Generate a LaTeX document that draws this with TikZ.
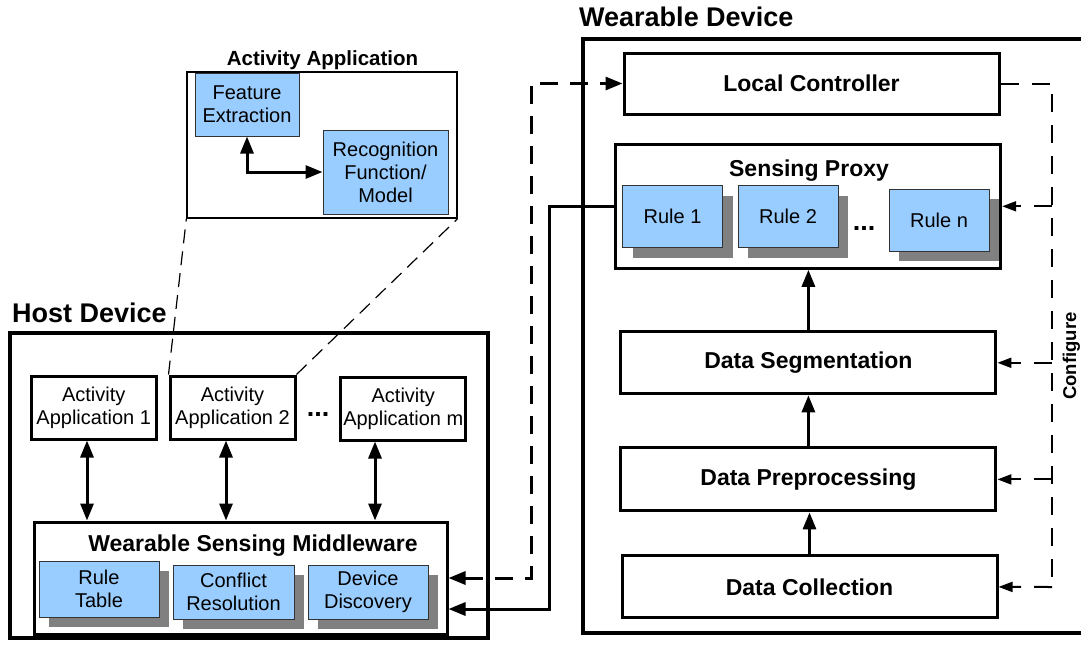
\documentclass[tikz,border=0pt]{standalone}
\usepackage{fontspec}
\setmainfont{Liberation Sans}
\usetikzlibrary{arrows.meta,shadows}
\definecolor{bluefill}{HTML}{99CCFF}
\definecolor{shadowgray}{HTML}{808080}
\tikzset{
  bigtip/.tip={Triangle[length=17pt, width=13pt]},
  cfgtip/.tip={Triangle[length=14pt, width=10pt]}
}
\begin{document}
\begin{tikzpicture}[x=1pt,y=-1pt,
  outerbox/.style={draw, line width=4pt, inner sep=0pt},
  heavybox/.style={draw, line width=3pt, fill=white, inner sep=0pt, align=center, font=\fontsize{23}{26}\selectfont\bfseries},
  appbox/.style={draw, line width=3pt, fill=white, inner sep=0pt, align=center, font=\fontsize{20}{23}\selectfont, minimum width=125, minimum height=63},
  bluebox/.style={draw=black!80, line width=1pt, fill=bluefill, inner sep=0pt, align=center, font=\fontsize{20}{23}\selectfont},
  shadowed/.style={drop shadow={shadow xshift=10pt, shadow yshift=-10pt, opacity=1, fill=shadowgray}},
  heading/.style={font=\fontsize{27}{30}\selectfont\bfseries, inner sep=0pt},
  title/.style={font=\fontsize{23}{26}\selectfont\bfseries, inner sep=0pt},
  dotsfont/.style={font=\fontsize{27}{30}\selectfont\bfseries, inner sep=0pt},
  fat/.style={line width=3pt},
  bigdash/.style={line width=3pt, dash pattern=on 18pt off 12pt},
  cfgdash/.style={line width=2pt, dash pattern=on 18pt off 13pt},
  zoomdash/.style={line width=1.2pt, dash pattern=on 14pt off 8pt},
  cfgarrow/.style={line width=2pt, -{cfgtip}}
]
\useasboundingbox (0,0) rectangle (1081,645);

% ---------------- Activity application detail ----------------
\node[font=\fontsize{20.5}{24}\selectfont\bfseries, inner sep=0pt, anchor=base] (aatitle) at (322.5,65) {Activity Application};
\node[draw, line width=1.3pt, inner sep=0pt, minimum width=270, minimum height=146] (aa) at (322,145) {};
\node[bluebox, minimum width=104, minimum height=63] (fe) at (247,104.5) {Feature\\Extraction};
\node[bluebox, minimum width=125, minimum height=84] (rf) at (385.5,172) {Recognition\\Function/\\Model};
\draw[fat, {bigtip}-{bigtip}] (fe.south) |- (rf.west);

% ---------------- Host device ----------------
\node[heading, anchor=base west] (hosttitle) at (12,322) {Host Device};
\node[outerbox, minimum width=478, minimum height=305] (host) at (249,485.5) {};
\node[appbox] (app1) at (93.7,407.5) {Activity\\Application 1};
\node[appbox] (app2) at (232.5,407.5) {Activity\\Application 2};
\node[appbox] (appm) at (403.3,408.5) {Activity\\Application m};
\node[dotsfont, anchor=base] (hdots) at (318,416) {...};
\node[draw, line width=3pt, fill=white, inner sep=0pt, minimum width=413, minimum height=112] (mw) at (240.5,578) {};
\node[title, anchor=base] (mwtitle) at (253,551) {Wearable Sensing Middleware};
\node[bluebox, shadowed, minimum width=120, minimum height=56] (rt) at (99,589) {Rule\\Table};
\node[bluebox, shadowed, minimum width=121, minimum height=54] (cr) at (233.5,592) {Conflict\\Resolution};
\node[bluebox, shadowed, minimum width=120, minimum height=54] (dd) at (368,592) {Device\\Discovery};

\draw[fat, {bigtip}-{bigtip}] ([xshift=-6.7pt]app1.south) -- ([xshift=-6.7pt]app1.south |- mw.north);
\draw[fat, {bigtip}-{bigtip}] ([xshift=-6.5pt]app2.south) -- ([xshift=-6.5pt]app2.south |- mw.north);
\draw[fat, {bigtip}-{bigtip}] ([xshift=-28.3pt]appm.south) -- ([xshift=-28.3pt]appm.south |- mw.north);

\draw[zoomdash] (app2.north west) -- (aa.south west);
\draw[zoomdash] (app2.north east) -- (aa.south east);

% ---------------- Wearable device ----------------
\node[heading, anchor=base west] (wdtitle) at (579,26) {Wearable Device};
\node[outerbox, minimum width=513, minimum height=594] (wd) at (839,336) {};
\node[heavybox, minimum width=375, minimum height=61] (lc) at (811.5,83.5) {Local Controller};
\node[draw, line width=3pt, fill=white, inner sep=0pt, minimum width=385, minimum height=124] (sp) at (808.2,206.3) {};
\node[title, anchor=base] (sptitle) at (809,176) {Sensing Proxy};
\node[bluebox, shadowed, minimum width=100, minimum height=62] (r1) at (672.5,216.7) {Rule 1};
\node[bluebox, shadowed, minimum width=100, minimum height=62] (r2) at (788,216.7) {Rule 2};
\node[bluebox, shadowed, minimum width=100, minimum height=62] (rn) at (939,220) {Rule n};
\node[dotsfont, anchor=base] (wdots) at (864,230) {...};
\node[heavybox, minimum width=375, minimum height=62] (ds) at (808.4,362.8) {Data Segmentation};
\node[heavybox, minimum width=375, minimum height=63] (dp) at (808.4,479.4) {Data Preprocessing};
\node[heavybox, minimum width=375, minimum height=62] (dc) at (809.5,586.9) {Data Collection};

\draw[fat, -{bigtip}] (dc.north) -- (dc.north |- dp.south);
\draw[fat, -{bigtip}] (dp.north) -- (dp.north |- ds.south);
\draw[fat, -{bigtip}] (ds.north) -- (ds.north |- sp.south);

% ---------------- Configure loop ----------------
\coordinate (ct) at (1052,83.5);
\coordinate (cb) at (1052,587);
\draw[cfgdash] (lc.east) -- (ct) -- (cb);
\draw[cfgdash, cfgarrow] (cb) -- (dc.east);
\draw[cfgdash, cfgarrow] (sp.east -| ct) -- (sp.east);
\draw[cfgdash, cfgarrow] (ds.east -| ct) -- (ds.east);
\draw[cfgdash, cfgarrow] (dp.east -| ct) -- (dp.east);
\node[font=\fontsize{18.5}{21}\selectfont\bfseries, inner sep=0pt, rotate=90, anchor=base] (cfg) at (1076,356) {Configure};

% ---------------- Host <-> wearable links ----------------
\coordinate (dtop) at (531,83.5);
\coordinate (dbot) at (531,578);
\draw[bigdash, {bigtip}-{bigtip}] (mw.east |- dbot) -- (dbot) -- (dtop) -- (lc.west);
\coordinate (sc) at (549,609);
\draw[fat, -{bigtip}] (sp.west) -| (sc) -- (mw.east |- sc);
\end{tikzpicture}
\end{document}
